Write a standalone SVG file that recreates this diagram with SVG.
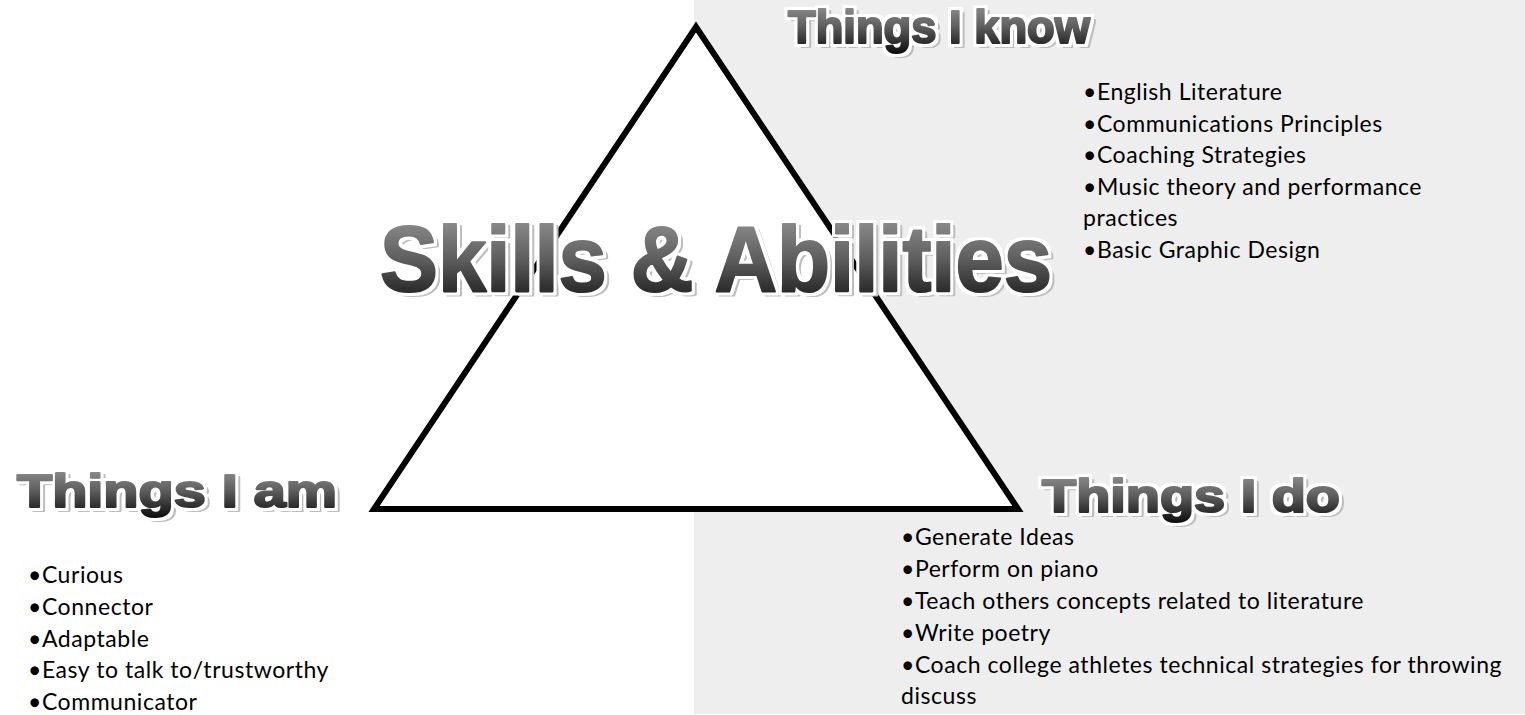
<svg xmlns="http://www.w3.org/2000/svg" width="1525" height="715" viewBox="0 0 1525 715">
  <defs>
    <linearGradient id="wa" x1="0" y1="0" x2="0" y2="1">
      <stop offset="0" stop-color="#9a9a9a"/>
      <stop offset="0.5" stop-color="#5e5e5e"/>
      <stop offset="1" stop-color="#0e0e0e"/>
    </linearGradient>
    <filter id="wordart" x="-5%" y="-25%" width="112%" height="160%" color-interpolation-filters="sRGB">
      <feMorphology in="SourceAlpha" operator="dilate" radius="1.2" result="thick"/>
      <feOffset in="thick" dx="4" dy="3" result="off"/>
      <feFlood flood-color="#bdbdbd"/>
      <feComposite in2="off" operator="in" result="shadow"/>
      <feMorphology in="SourceAlpha" operator="dilate" radius="2.8" result="outl"/>
      <feFlood flood-color="#ffffff"/>
      <feComposite in2="outl" operator="in" result="white"/>
      <feMerge>
        <feMergeNode in="shadow"/>
        <feMergeNode in="white"/>
        <feMergeNode in="SourceGraphic"/>
      </feMerge>
    </filter>
  </defs>
  <style>
    .wa { font-family: "Liberation Sans", Arial, sans-serif; font-weight: bold; fill: url(#wa); stroke: url(#wa); stroke-width: 2.2; stroke-linejoin: round; filter: url(#wordart); }
    .body { font-family: Lato, "Liberation Sans", sans-serif; font-size: 23px; letter-spacing: 0.55px; fill: #000000; }
  </style>
  <rect x="0" y="0" width="1525" height="715" fill="#ffffff"/>
  <rect x="694" y="0" width="831" height="714" fill="#eeeeee"/>

  <g id="triangle">
    <polygon points="696,27 374,509 1018,509" fill="#ffffff" stroke="#000000" stroke-width="6" stroke-linejoin="miter"/>
  </g>

  <g id="connectors"/>

  <g id="title-skills">
    <text class="wa" x="380" y="291" font-size="92" textLength="672" lengthAdjust="spacingAndGlyphs">Skills &amp; Abilities</text>
  </g>

  <g id="things-i-know">
    <text class="wa" x="788" y="43" font-size="47" textLength="302" lengthAdjust="spacingAndGlyphs">Things I know</text>
    <text class="body" x="1083" y="100">•English Literature</text>
    <text class="body" x="1083" y="131.6">•Communications Principles</text>
    <text class="body" x="1083" y="163.2">•Coaching Strategies</text>
    <text class="body" x="1083" y="194.8">•Music theory and performance</text>
    <text class="body" x="1083" y="226.4">practices</text>
    <text class="body" x="1083" y="258">•Basic Graphic Design</text>
  </g>

  <g id="things-i-am">
    <text class="wa" x="17" y="507" font-size="47" textLength="320" lengthAdjust="spacingAndGlyphs">Things I am</text>
    <text class="body" x="28" y="583">•Curious</text>
    <text class="body" x="28" y="614.8">•Connector</text>
    <text class="body" x="28" y="646.6">•Adaptable</text>
    <text class="body" x="28" y="678.4">•Easy to talk to/trustworthy</text>
    <text class="body" x="28" y="710">•Communicator</text>
  </g>

  <g id="things-i-do">
    <text class="wa" x="1042" y="512" font-size="47" textLength="298" lengthAdjust="spacingAndGlyphs">Things I do</text>
    <text class="body" x="901" y="545">•Generate Ideas</text>
    <text class="body" x="901" y="577">•Perform on piano</text>
    <text class="body" x="901" y="609">•Teach others concepts related to literature</text>
    <text class="body" x="901" y="640.7">•Write poetry</text>
    <text class="body" x="901" y="672.7">•Coach college athletes technical strategies for throwing</text>
    <text class="body" x="901" y="703.5">discuss</text>
  </g>
</svg>
